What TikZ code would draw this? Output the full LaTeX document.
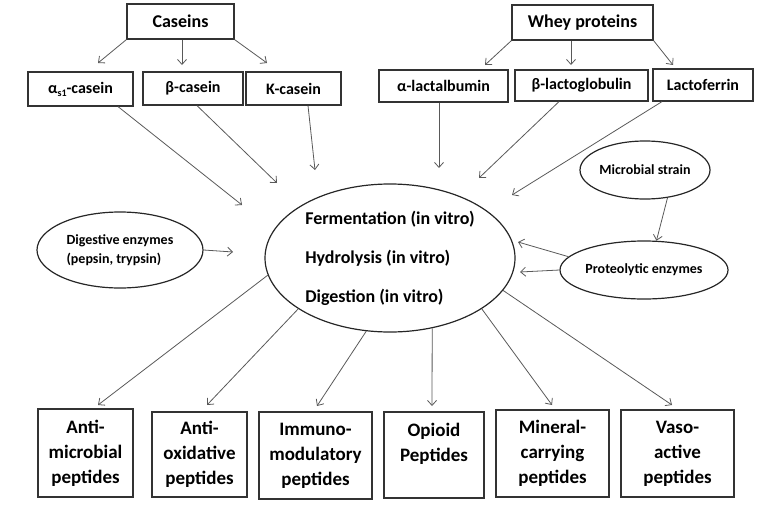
\documentclass[tikz,border=0pt]{standalone}
\usepackage{fontspec}
\setmainfont{Carlito}
\usetikzlibrary{shapes.geometric,arrows.meta}
\tikzset{
  box/.style={draw=black!80, line width=1.2pt, inner sep=0pt, align=center},
  topbox/.style={box, font=\bfseries\fontsize{18}{22}\selectfont},
  subbox/.style={box, font=\bfseries\fontsize{16}{19}\selectfont},
  pepbox/.style={box, font=\bfseries\fontsize{19}{25}\selectfont},
  oval/.style={draw=black!85, line width=1.2pt, ellipse, inner sep=0pt, align=center},
  arr/.style={draw=black!65, line width=0.8pt, -{Straight Barb[length=5pt,width=9pt]}}
}
\begin{document}
\begin{tikzpicture}[x=1pt,y=-1pt]
    \useasboundingbox (0,0) rectangle (770,514);
    %Nodes
    \node[topbox, minimum width=107, minimum height=35] (cas)   at (180.5,21.5) {Caseins};
    \node[subbox, minimum width=105, minimum height=34] (as1)   at (80.5,89)    {α\raisebox{-3pt}{\fontsize{10}{10}\selectfont s1}-casein};
    \node[subbox, minimum width=100, minimum height=33] (bcas)  at (193,88.5)   {β-casein};
    \node[subbox, minimum width=95,  minimum height=33] (kcas)  at (293.5,88.5) {K-casein};
    \node[topbox, minimum width=141, minimum height=35] (whey)  at (582.5,22.5) {Whey proteins};
    \node[subbox, minimum width=129, minimum height=32] (alac)  at (443.5,86)   {α-lactalbumin};
    \node[subbox, minimum width=133, minimum height=31] (blac)  at (581.5,85.5) {β-lactoglobulin};
    \node[subbox, minimum width=100, minimum height=32] (lacto) at (703,85)     {Lactoferrin};

    \node[oval, minimum width=250, minimum height=148, align=left,
          font=\bfseries\fontsize{18}{22}\selectfont] (proc) at (390,258)
          {Fermentation (in vitro)\\[17pt]Hydrolysis (in vitro)\\[17pt]Digestion (in vitro)};
    \node[oval, minimum width=166, minimum height=76, align=left,
          font=\bfseries\fontsize{14}{19}\selectfont] (dig) at (120,250)
          {Digestive enzymes\\(pepsin, trypsin)};
    \node[oval, minimum width=130, minimum height=58,
          font=\bfseries\fontsize{14}{17}\selectfont] (micro) at (645,170) {Microbial strain};
    \node[oval, minimum width=168, minimum height=58,
          font=\bfseries\fontsize{14}{17}\selectfont] (prot) at (644,270) {Proteolytic enzymes};

    \node[pepbox, minimum width=95,  minimum height=88] (am) at (85.5,453)    {Anti-\\microbial\\peptides};
    \node[pepbox, minimum width=95,  minimum height=85] (ao) at (199.5,454.5) {Anti-\\oxidative\\peptides};
    \node[pepbox, minimum width=113, minimum height=87] (im) at (315.5,455.5) {Immuno-\\modulatory\\peptides};
    \node[pepbox, minimum width=100, minimum height=86] (op) at (434,455)     {Opioid\\Peptides\\\mbox{}};
    \node[pepbox, minimum width=113, minimum height=87] (mi) at (552.5,453.5) {Mineral-\\carrying\\peptides};
    \node[pepbox, minimum width=113, minimum height=87] (va) at (677.5,453.5) {Vaso-\\active\\peptides};

    %Arrow tips
    \coordinate (c1) at (98,63);   \coordinate (c2) at (182,65);  \coordinate (c3) at (267,63);
    \coordinate (w1) at (485,65);  \coordinate (w2) at (571,65);  \coordinate (w3) at (673,65);
    \coordinate (p1) at (242,205); \coordinate (p2) at (277,183); \coordinate (p3) at (315,170);
    \coordinate (p4) at (439,168); \coordinate (p5) at (479,178); \coordinate (p6) at (512,195);
    \coordinate (d1) at (233,252);
    \coordinate (e1) at (518,242); \coordinate (e2) at (520,272);
    \coordinate (b1) at (98,405);  \coordinate (b2) at (207,405); \coordinate (b3) at (317,406);
    \coordinate (b4) at (432,406); \coordinate (b5) at (552,405); \coordinate (b6) at (672,405);

    %Lines
    \draw[arr] (cas.south west) -- (c1);
    \draw[arr] (cas.south -| c2) -- (c2);
    \draw[arr] (cas.south east) -- (c3);
    \draw[arr] (whey.south west) -- (w1);
    \draw[arr] (whey.south -| w2) -- (w2);
    \draw[arr] (whey.south east) -- (w3);

    \draw[arr] (as1.south -| 118,0) -- (p1);
    \draw[arr] (bcas.south -| 197,0) -- (p2);
    \draw[arr] (kcas.south -| 308,0) -- (p3);
    \draw[arr] (alac.south -| p4) -- (p4);
    \draw[arr] (blac.south -| 559,0) -- (p5);
    \draw[arr] (lacto.south -| 662,0) -- (p6);

    \draw[arr] (dig.east) -- (d1);
    \draw[arr] (micro.309) -- (prot.67);
    \draw[arr] (prot.170) -- (e1);
    \draw[arr] (prot.west) -- (e2);

    \draw[arr] (proc.188) -- (b1);
    \draw[arr] (proc.209) -- (b2);
    \draw[arr] (proc.252) -- (b3);
    \draw[arr] (proc.301) -- (b4);
    \draw[arr] (proc.331) -- (b5);
    \draw[arr] (proc.344) -- (b6);
\end{tikzpicture}
\end{document}
